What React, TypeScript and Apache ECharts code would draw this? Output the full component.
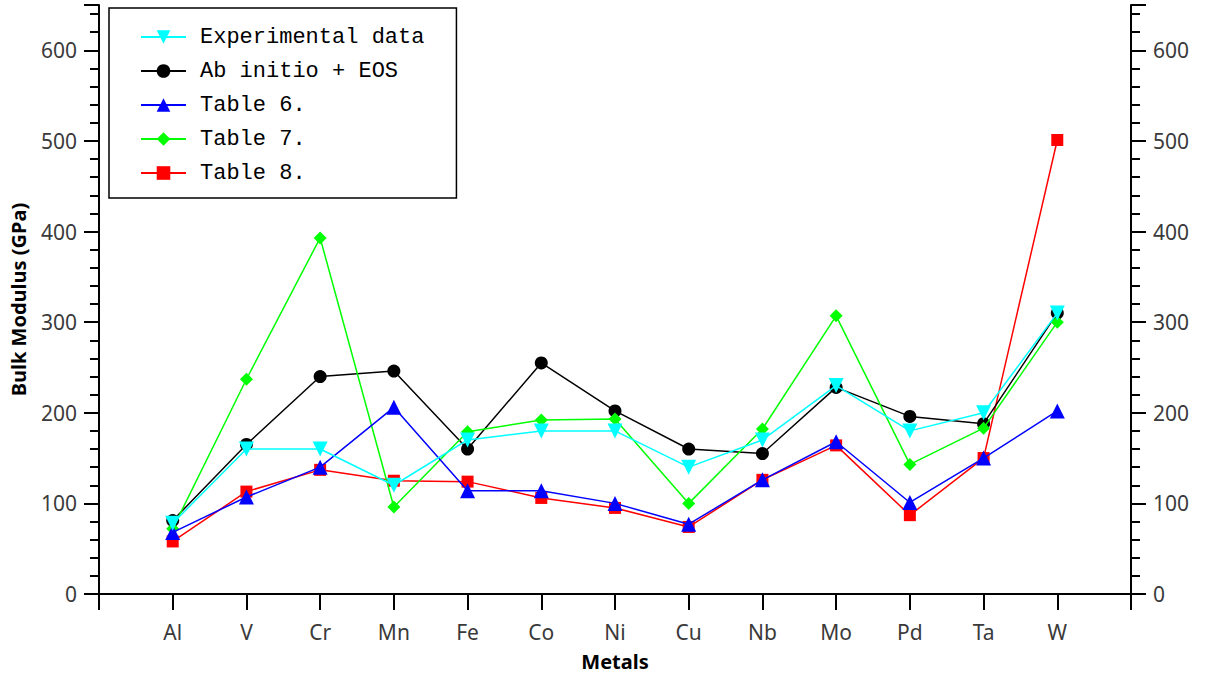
import React, { useEffect, useRef } from "react";
import * as echarts from "echarts";

// Metals along the x axis (placed at positions 1..13)
const metals = ["Al", "V", "Cr", "Mn", "Fe", "Co", "Ni", "Cu", "Nb", "Mo", "Pd", "Ta", "W"];

// Bulk modulus values (GPa)
const experimental = [78, 160, 160, 120, 170, 180, 180, 140, 170, 230, 180, 200, 310];
const abInitio = [81, 165, 240, 246, 160, 255, 202, 160, 155, 228, 196, 188, 310];
const table6 = [68, 107, 140, 206, 114, 114, 100, 77, 126, 168, 101, 150, 202];
const table7 = [72, 237, 393, 96, 179, 192, 193, 100, 182, 307, 143, 183, 300];
const table8 = [58, 113, 137, 125, 124, 106, 95, 74, 126, 164, 87, 150, 501];

const yTicks = { min: 0, max: 650, interval: 100 };

const toPoints = (vals: number[]) => vals.map((v, i) => [i + 1, v]);

const labelFont = "'Noto Sans', 'Open Sans', sans-serif";

export default function App() {
  const ref = useRef<HTMLDivElement>(null);

  useEffect(() => {
    if (!ref.current) return;
    const chart = echarts.init(ref.current, undefined, { renderer: "svg" });

    const yAxisBase = {
      type: "value" as const,
      min: yTicks.min,
      max: yTicks.max,
      interval: yTicks.interval,
      splitLine: { show: false },
      axisLine: { show: true, lineStyle: { color: "#000", width: 2 } },
      axisTick: { show: true, inside: false, length: 15, lineStyle: { color: "#000", width: 2 } },
      minorTick: { show: true, splitNumber: 5, length: 9, lineStyle: { color: "#000", width: 2 } },
      axisLabel: {
        color: "#3a3a3a",
        fontSize: 21,
        fontFamily: labelFont,
        margin: 22,
        showMaxLabel: false,
      },
    };

    const mk = (
      name: string,
      vals: number[],
      color: string,
      symbol: string,
      size: number | number[],
      z: number,
      rotate = 0
    ) => ({
      name,
      type: "line" as const,
      data: toPoints(vals),
      symbol,
      symbolSize: size,
      symbolRotate: rotate,
      showAllSymbol: true,
      z,
      lineStyle: { color, width: 1.5 },
      itemStyle: { color, borderWidth: 0 },
      emphasis: { disabled: true },
    });

    chart.setOption({
      animation: false,
      backgroundColor: "#fff",
      grid: {
        left: 99,
        right: 80,
        top: 5,
        bottom: 85,
        containLabel: false,
        outerBoundsMode: "none",
      },
      legend: {
        orient: "vertical",
        left: 109,
        top: 8,
        itemWidth: 45,
        itemHeight: 17,
        itemGap: 12,
        padding: [18, 32, 14, 31],
        borderColor: "#000",
        borderWidth: 1.5,
        borderRadius: 0,
        backgroundColor: "#fff",
        selectedMode: false,
        textStyle: {
          fontFamily: "'Liberation Mono', 'DejaVu Sans Mono', monospace",
          fontSize: 22,
          color: "#000",
          padding: [0, 0, 0, 9],
        },
        data: ["Experimental data", "Ab initio + EOS", "Table 6.", "Table 7.", "Table 8."],
      },
      xAxis: {
        type: "value",
        min: 0,
        max: 14,
        interval: 1,
        name: "Metals",
        nameLocation: "middle",
        nameGap: 57,
        nameTextStyle: { color: "#000", fontSize: 20, fontWeight: "bold", fontFamily: labelFont },
        splitLine: { show: false },
        axisLine: { show: true, onZero: false, lineStyle: { color: "#000", width: 2 } },
        axisTick: { show: true, inside: false, length: 16, lineStyle: { color: "#000", width: 2 } },
        axisLabel: {
          color: "#3a3a3a",
          fontSize: 21,
          fontFamily: labelFont,
          margin: 27,
          formatter: (v: number) => (v >= 1 && v <= metals.length ? metals[v - 1] : ""),
        },
      },
      yAxis: [
        {
          ...yAxisBase,
          position: "left",
          name: "Bulk Modulus (GPa)",
          nameLocation: "middle",
          nameGap: 71,
          nameTextStyle: { color: "#000", fontSize: 20, fontWeight: "bold", fontFamily: labelFont },
        },
        { ...yAxisBase, position: "right" },
      ],
      series: [
        mk("Experimental data", experimental, "#00FFFF", "triangle", 15, 7, 180),
        mk("Ab initio + EOS", abInitio, "#000000", "circle", 13, 4),
        mk("Table 6.", table6, "#0000FF", "triangle", 15, 6),
        mk("Table 7.", table7, "#00FF00", "diamond", [13, 13], 5),
        mk("Table 8.", table8, "#FF0000", "rect", 12, 3),
      ],
    });

    return () => chart.dispose();
  }, []);

  return (
    <div
      ref={ref}
      style={{ position: "absolute", left: 0, top: 0, width: 1211, height: 679 }}
    />
  );
}
